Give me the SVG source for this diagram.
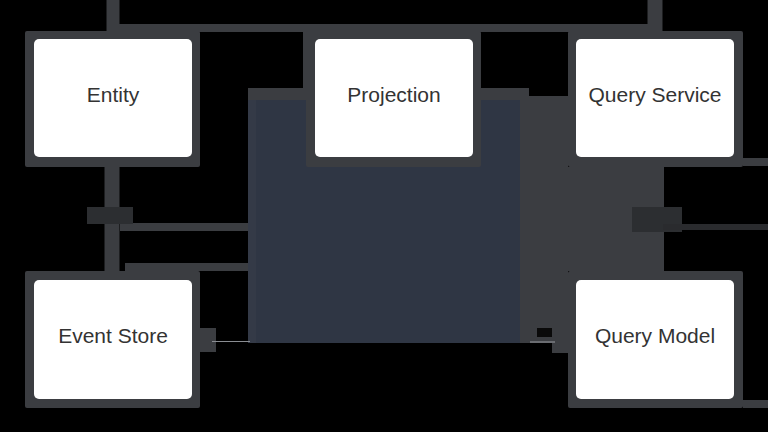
<svg xmlns="http://www.w3.org/2000/svg" width="768" height="432" viewBox="0 0 768 432">
<style>
.frame{fill:#3b3d41}
.card{fill:#ffffff}
.lbl{font-family:"Liberation Sans",Arial,sans-serif;font-size:21px;fill:#333333;text-anchor:middle}
.band{fill:#3b3d41}
.conn{fill:none;stroke:#3b3d41}
.chip{fill:#2c2e31}
.thin{fill:none;stroke:#8a8d92;stroke-width:1.2}
</style>
<rect x="0" y="0" width="768" height="432" fill="#000000"/>
<g id="connectors">
  <path class="conn" d="M113 0V31" stroke-width="13"/>
  <path class="conn" d="M655 0V31" stroke-width="15"/>
  <path class="conn" d="M108 28H662" stroke-width="8"/>
  <path class="conn" d="M112 167V272" stroke-width="15"/>
  <path class="conn" d="M120 227H250" stroke-width="8"/>
  <path class="conn" d="M125 267H250" stroke-width="8"/>
  <rect class="chip" x="87" y="207" width="46" height="17"/>
  <rect class="band" x="568" y="167" width="96" height="104"/>
  <rect class="band" x="520" y="96" width="48" height="247"/>
  <rect class="band" x="479" y="88" width="50" height="15"/>
  <rect class="band" x="552" y="343" width="16" height="10"/>
  <rect class="chip" x="632" y="207" width="50" height="25"/>
  <path class="conn" d="M743 162H768" stroke-width="8"/>
  <path d="M663 227H768" fill="none" stroke="#2a2b2e" stroke-width="6"/>
  <path class="conn" d="M743 404H768" stroke-width="8"/>
  <rect class="band" x="248" y="88" width="62" height="15"/>
  <rect class="band" x="303" y="31" width="10" height="72"/>
  <rect x="250" y="100" width="270" height="243" fill="#2f3644"/>
  <rect x="248" y="100" width="8" height="243" fill="#343a47"/>
  <rect class="band" x="199" y="328" width="17" height="24"/>
  <path class="thin" d="M212 341.5H250"/>
  <rect x="537" y="328" width="15" height="9" fill="#0a0a0a"/>
  <path class="thin" d="M530 342H555"/>
</g>
<g id="node-entity">
  <rect class="frame" x="25" y="31" width="175" height="136" rx="2"/>
  <rect class="card" x="34" y="39" width="158" height="118" rx="5"/>
  <text class="lbl" x="113" y="102">Entity</text>
</g>
<g id="node-projection">
  <rect class="frame" x="306" y="31" width="175" height="136" rx="2"/>
  <rect class="card" x="315" y="39" width="158" height="118" rx="5"/>
  <text class="lbl" x="394" y="102">Projection</text>
</g>
<g id="node-query-service">
  <rect class="frame" x="568" y="31" width="175" height="136" rx="2"/>
  <rect class="card" x="576" y="39" width="158" height="118" rx="5"/>
  <text class="lbl" x="655" y="102">Query Service</text>
</g>
<g id="node-event-store">
  <rect class="frame" x="25" y="271" width="175" height="137" rx="2"/>
  <rect class="card" x="34" y="280" width="158" height="119" rx="5"/>
  <text class="lbl" x="113" y="343">Event Store</text>
</g>
<g id="node-query-model">
  <rect class="frame" x="568" y="271" width="175" height="137" rx="2"/>
  <rect class="card" x="576" y="280" width="158" height="119" rx="5"/>
  <text class="lbl" x="655" y="343">Query Model</text>
</g>
</svg>
